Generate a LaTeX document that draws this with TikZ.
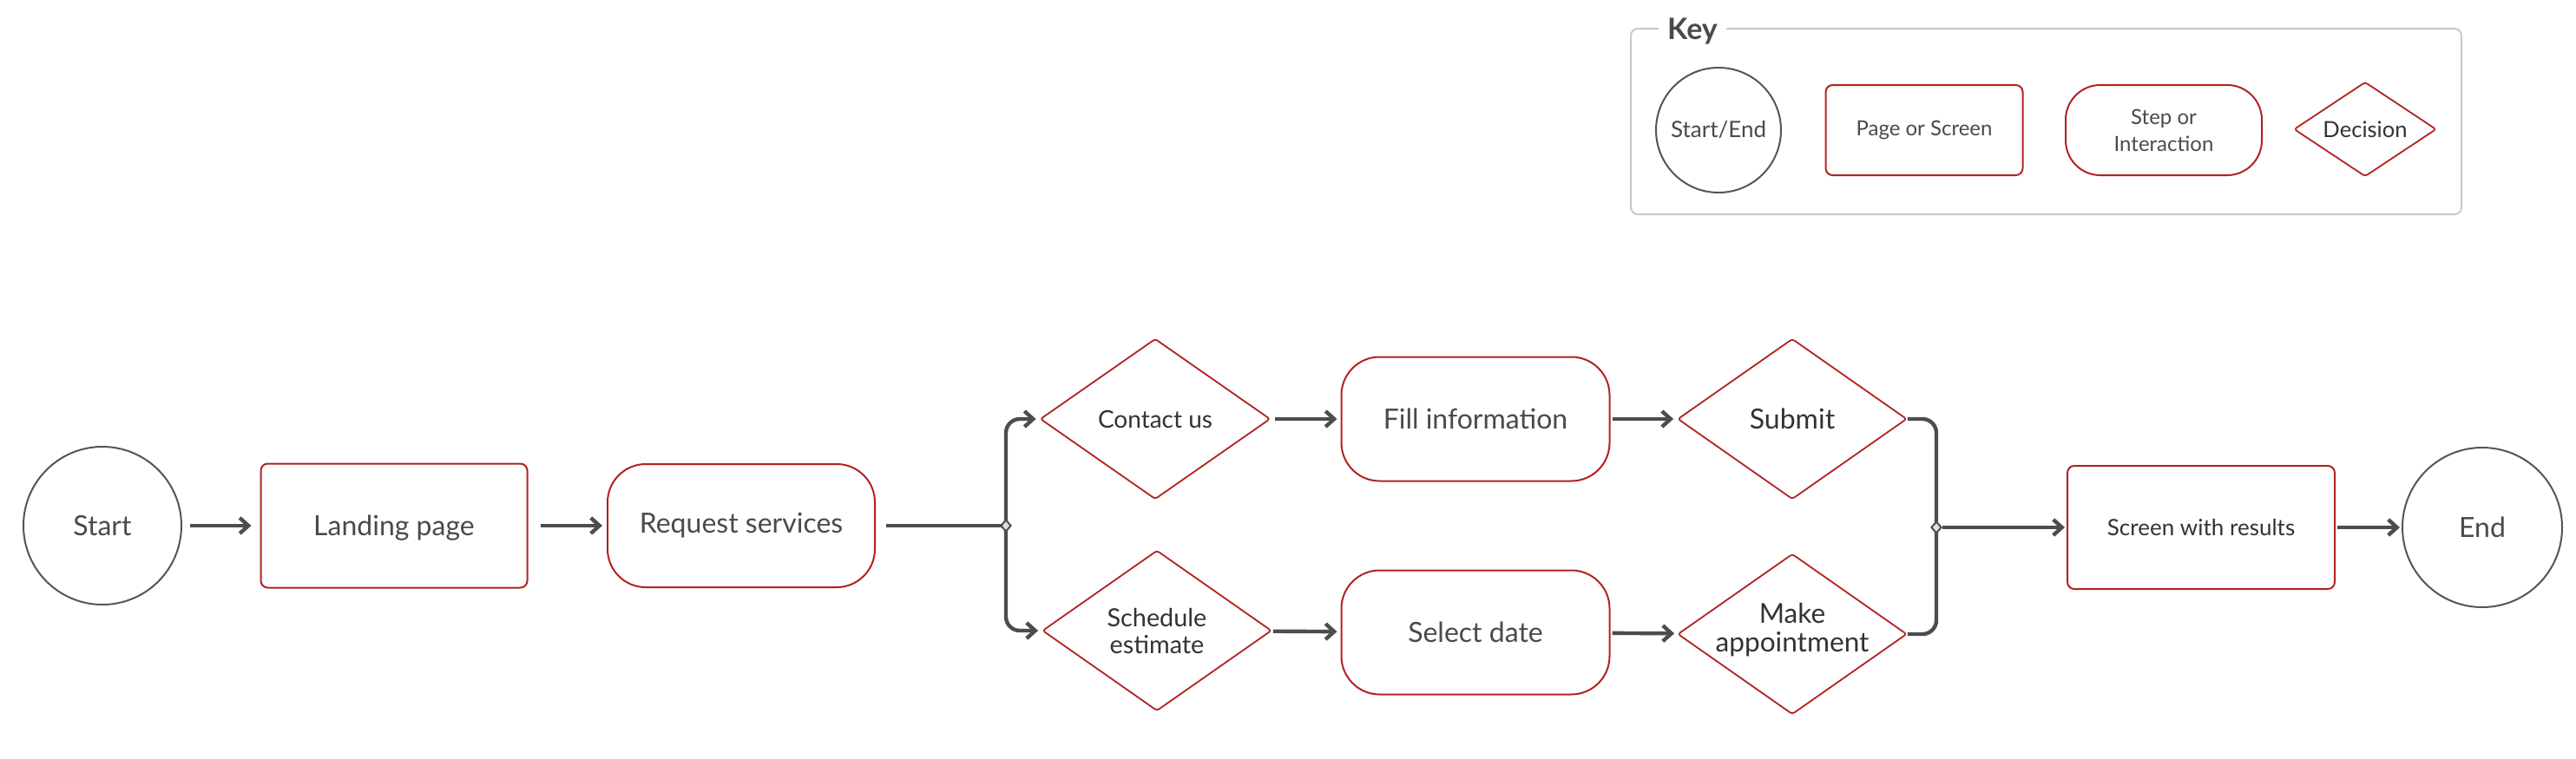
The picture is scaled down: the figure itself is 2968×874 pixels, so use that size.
\documentclass[tikz,border=0pt]{standalone}
\usepackage{fontspec}
\setmainfont{Lato}
\usetikzlibrary{shapes.geometric, arrows.meta, backgrounds}
\definecolor{redb}{HTML}{B22222}
\definecolor{grayb}{HTML}{555555}
\definecolor{txt}{HTML}{4A4A4A}
\definecolor{txtd}{HTML}{333333}
\definecolor{keyline}{HTML}{C8C8C8}
\definecolor{jfill}{HTML}{E0E0E0}
\definecolor{conn}{HTML}{4D4D4D}
\newcommand{\fs}[2]{\fontsize{#1}{#2}\selectfont}
\tikzset{
 termnode/.style={circle, draw=grayb, line width=1pt, minimum size=#1, inner sep=0pt, text=txt, fill=white},
 pagenode/.style={rectangle, rounded corners=4pt, draw=redb, line width=1pt, text=txt, inner sep=0pt, fill=white, align=center},
 stepnode/.style={rectangle, rounded corners=22pt, draw=redb, line width=1pt, text=txt, inner sep=0pt, fill=white, align=center},
 decnode/.style={diamond, rounded corners=1.5pt, draw=redb, line width=0.9pt, inner sep=0pt, fill=white},
 dtext/.style={text=txtd, align=center, inner sep=0pt},
 junc/.style={diamond, draw=conn, fill=jfill, line width=1pt, minimum width=6pt, minimum height=7pt, inner sep=0pt},
 flow/.style={draw=conn, line width=2.2pt, rounded corners=8pt},
 arr/.style={flow, -{Straight Barb[length=5pt,width=9pt]}, shorten <=2pt, shorten >=2pt},
}
\begin{document}
\begin{tikzpicture}[x=0.5pt, y=-0.5pt]
\useasboundingbox (0,0) rectangle (2968,874);
% Key
\node[draw=keyline, line width=1pt, rounded corners=4pt, minimum width=478.5pt, minimum height=107pt, inner sep=0pt] (keybox) at (2357.5,140) {};
\node[anchor=base, fill=white, text=txt, inner xsep=5pt, inner ysep=2pt, font=\bfseries\fs{17}{20}] (keylabel) at (1950,45) {Key};
\node[termnode=72pt, font=\fs{13}{15}] (kcircle) at (1980,150) {Start/End};
\node[pagenode, minimum width=113.5pt, minimum height=52pt, font=\fs{12}{14}] (kpage) at (2217,150) {Page or Screen};
\node[stepnode, rounded corners=20pt, minimum width=113pt, minimum height=52pt, font=\fs{12}{15.5}] (kstep) at (2493,150) {Step or\\Interaction};
\node[decnode, minimum width=82pt, minimum height=54.5pt, label={[dtext, font=\fs{12.8}{15}]center:Decision}] (kdec) at (2725,149) {};
% Main flow
\node[termnode=91pt, font=\fs{16}{19}] (start) at (118,606) {Start};
\node[pagenode, minimum width=153.5pt, minimum height=71.5pt, font=\fs{16}{19}, text depth=0pt] (landing) at (454,606) {Landing page};
\node[stepnode, minimum width=154pt, minimum height=71pt, font=\fs{16}{19}] (request) at (854,606) {Request services};
\node[junc] (j1) at (1159,606) {};
\node[decnode, minimum width=132.5pt, minimum height=92.5pt, label={[dtext, font=\fs{14}{17}]center:Contact us}] (contact) at (1331,483) {};
\node[stepnode, minimum width=154.5pt, minimum height=71.5pt, font=\fs{16}{19}] (fill) at (1700,483) {Fill information};
\node[decnode, minimum width=132pt, minimum height=92.5pt, label={[dtext, font=\fs{16}{19}]center:Submit}] (submit) at (2065,483) {};
\node[decnode, minimum width=132pt, minimum height=92.5pt, label={[dtext, font=\fs{14.4}{15.5}]center:Schedule\\estimate}] (sched) at (1333,727) {};
\node[stepnode, minimum width=154.5pt, minimum height=71.5pt, font=\fs{16}{19}] (select) at (1700,729) {Select date};
\node[decnode, minimum width=132pt, minimum height=92.5pt, label={[dtext, font=\fs{15.8}{16.5}, yshift=2.5pt]center:Make\\appointment}] (make) at (2065,731) {};
\node[junc] (j2) at (2231,608) {};
\node[pagenode, minimum width=154pt, minimum height=71pt, font=\fs{13}{16}, text=txtd] (screen) at (2536,608) {Screen with results};
\node[termnode=92pt, font=\fs{16}{19}] (end) at (2860,608) {End};
% Connectors
\begin{pgfonlayer}{background}
\draw[arr, shorten <=4.5pt, shorten >=5pt] (start) -- (landing);
\draw[arr, shorten <=7pt, shorten >=2.5pt] (landing) -- (request);
\draw[flow, shorten <=6pt] (request.east) -- (j1.center);
\draw[arr, shorten <=0pt] (j1.center) |- (contact.west);
\draw[arr, shorten <=0pt] (j1.center) |- (sched.west);
\draw[arr, shorten <=2.5pt] (contact) -- (fill);
\draw[arr, shorten <=1pt] (fill) -- (submit);
\draw[arr, shorten <=1pt] (sched) -- (select);
\draw[arr, shorten <=1pt] (select) -- (make);
\draw[flow] (submit.east) -| (j2.center);
\draw[flow] (make.east) -| (j2.center);
\draw[arr, shorten <=0pt, shorten >=1pt] (j2) -- (screen);
\draw[arr, shorten <=1pt, shorten >=1pt] (screen) -- (end);
\end{pgfonlayer}
\end{tikzpicture}
\end{document}
